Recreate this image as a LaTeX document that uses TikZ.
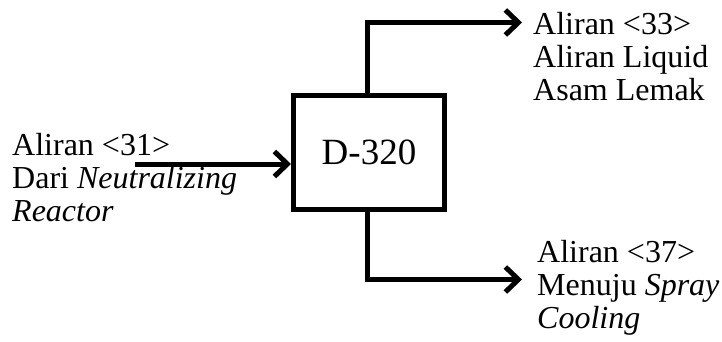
\documentclass[tikz,border=0pt]{standalone}
\usepackage{fontspec}
\setmainfont{Liberation Serif}
\usetikzlibrary{arrows.meta}
\begin{document}
\begin{tikzpicture}[x=1pt,y=-1pt,
  flow/.style={line width=5pt,-{Straight Barb[length=13pt,width=25pt]}},
  unit/.style={draw,line width=5pt,minimum width=151pt,minimum height=114pt,inner sep=0pt,font=\fontsize{37}{40}\selectfont},
  lbl/.style={anchor=base west,align=left,inner sep=0pt,font=\fontsize{32}{33}\selectfont}]
\useasboundingbox (0,0) rectangle (722,342);
\node[unit] (d320) at (369,152.5) {D-320};
\coordinate (in31) at (135,164);
\coordinate (o33) at (522,22.5);
\coordinate (o37) at (522,279.5);
\coordinate (vx) at (367,0);
\node[lbl] (l31) at (12,221) {Aliran <31>\\Dari \textit{Neutralizing}\\\textit{Reactor}};
\node[lbl] (l33) at (533,101) {Aliran <33>\\Aliran Liquid\\Asam Lemak};
\node[lbl] (l37) at (537,328) {Aliran <37>\\Menuju \textit{Spray}\\\textit{Cooling}};
\draw[flow] (in31) -- (d320.west |- in31);
\draw[flow] (d320.north -| vx) |- (o33);
\draw[flow] (d320.south -| vx) |- (o37);
\end{tikzpicture}
\end{document}
